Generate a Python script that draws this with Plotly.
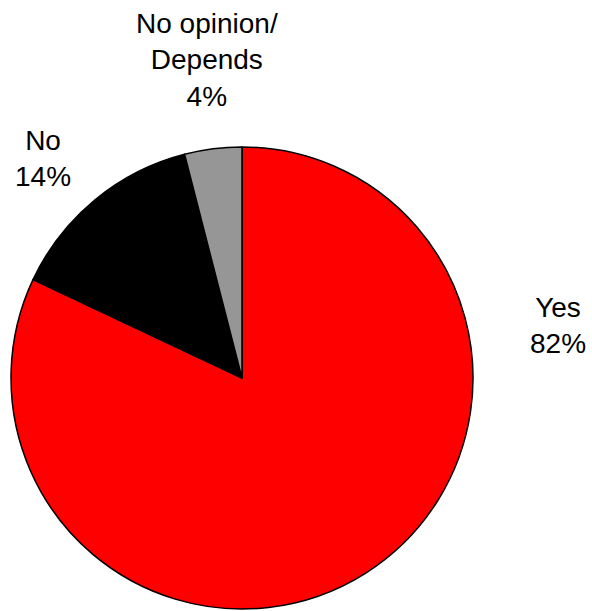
import plotly.graph_objects as go

# Survey responses
labels = ["Yes", "No", "No opinion/<br>Depends"]
values = [82, 14, 4]
colors = ["#ff0000", "#000000", "#969696"]

# Label anchor points in pixel space (x, y from top)
label_px = [(558, 325), (43, 158), (207, 60)]

W, H = 592, 611
cx, cy, r = 242, 378, 231

fig = go.Figure(
    go.Pie(
        labels=labels,
        values=values,
        sort=False,
        direction="clockwise",
        rotation=0,
        marker=dict(colors=colors, line=dict(color="#000000", width=1.5)),
        textinfo="none",
        hoverinfo="label+percent",
        domain=dict(x=[(cx - r) / W, (cx + r) / W], y=[1 - (cy + r) / H, 1 - (cy - r) / H]),
        showlegend=False,
    )
)

total = sum(values)
for lab, val, (px, py) in zip(labels, values, label_px):
    fig.add_annotation(
        x=px / W,
        y=1 - py / H,
        xref="paper",
        yref="paper",
        text=f"{lab}<br>{round(val / total * 100)}%",
        showarrow=False,
        xanchor="center",
        yanchor="middle",
        align="center",
        font=dict(family="Liberation Sans, Arial, sans-serif", size=28, color="#000000"),
    )

fig.update_layout(
    width=W,
    height=H,
    margin=dict(l=0, r=0, t=0, b=0),
    paper_bgcolor="#ffffff",
    plot_bgcolor="#ffffff",
)

fig.write_html("out.html")
